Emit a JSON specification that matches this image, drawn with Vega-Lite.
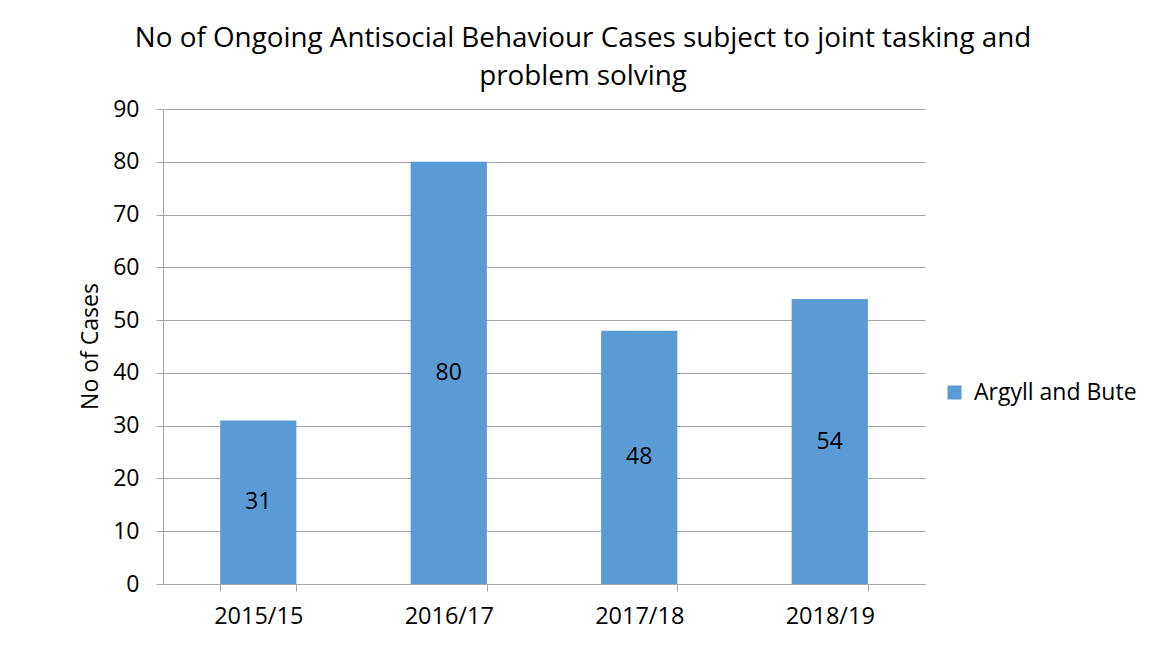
{
  "$schema": "https://vega.github.io/schema/vega-lite/v6.json",
  "width": 762,
  "height": 475,
  "autosize": {"type": "none"},
  "padding": {"left": 163, "top": 109, "right": 224, "bottom": 88},
  "background": "white",
  "title": {
    "text": ["No of Ongoing Antisocial Behaviour Cases subject to joint tasking and", "problem solving"],
    "anchor": "middle",
    "dx": 39,
    "fontSize": 27.8,
    "font": "Open Sans",
    "fontWeight": "normal",
    "color": "#000000",
    "lineHeight": 38,
    "offset": 7
  },
  "data": {
    "values": [
      {"year": "2015/15", "cases": 31, "series": "Argyll and Bute"},
      {"year": "2016/17", "cases": 80, "series": "Argyll and Bute"},
      {"year": "2017/18", "cases": 48, "series": "Argyll and Bute"},
      {"year": "2018/19", "cases": 54, "series": "Argyll and Bute"}
    ]
  },
  "transform": [{"calculate": "datum.cases / 2", "as": "mid"}],
  "encoding": {
    "x": {
      "field": "year",
      "type": "nominal",
      "sort": null,
      "scale": {"paddingInner": 0.6, "paddingOuter": 0.3},
      "axis": {
        "title": null,
        "labelAngle": 0,
        "tickBand": "extent",
        "tickSize": 7,
        "labelPadding": 13,
        "labelFontSize": 23.5,
        "labelFont": "Open Sans",
        "labelColor": "#000000",
        "domainColor": "#A6A6A6",
        "tickColor": "#A6A6A6",
        "grid": false
      }
    }
  },
  "layer": [
    {
      "mark": {"type": "bar", "color": "#5B9BD5"},
      "encoding": {
        "y": {
          "field": "cases",
          "type": "quantitative",
          "scale": {"domain": [0, 90], "nice": false},
          "axis": {
            "title": "No of Cases",
            "titleFont": "Open Sans",
            "titleFontSize": 23,
            "titleFontWeight": "normal",
            "titleColor": "#000000",
            "titleX": -73,
            "titleY": 237,
            "titleBaseline": "middle",
            "titleAngle": -90,
            "values": [0, 10, 20, 30, 40, 50, 60, 70, 80, 90],
            "tickSize": 7,
            "labelPadding": 17,
            "labelFontSize": 23,
            "labelFont": "Open Sans",
            "labelColor": "#000000",
            "domainColor": "#A6A6A6",
            "tickColor": "#A6A6A6",
            "gridColor": "#A6A6A6",
            "grid": true
          }
        },
        "color": {
          "field": "series",
          "type": "nominal",
          "scale": {"domain": ["Argyll and Bute"], "range": ["#5B9BD5"]},
          "legend": {
            "title": null,
            "orient": "none",
            "legendX": 780,
            "legendY": 272,
            "symbolType": "square",
            "symbolSize": 196,
            "symbolStrokeWidth": 0,
            "labelFontSize": 23,
            "labelFont": "Open Sans",
            "labelColor": "#000000",
            "labelOffset": 8,
            "labelLimit": 400
          }
        }
      }
    },
    {
      "mark": {"type": "text", "fontSize": 23, "font": "Open Sans", "color": "#000000", "baseline": "middle"},
      "encoding": {
        "y": {"field": "mid", "type": "quantitative"},
        "text": {"field": "cases", "type": "quantitative"}
      }
    }
  ],
  "config": {
    "view": {"stroke": null}
  }
}
